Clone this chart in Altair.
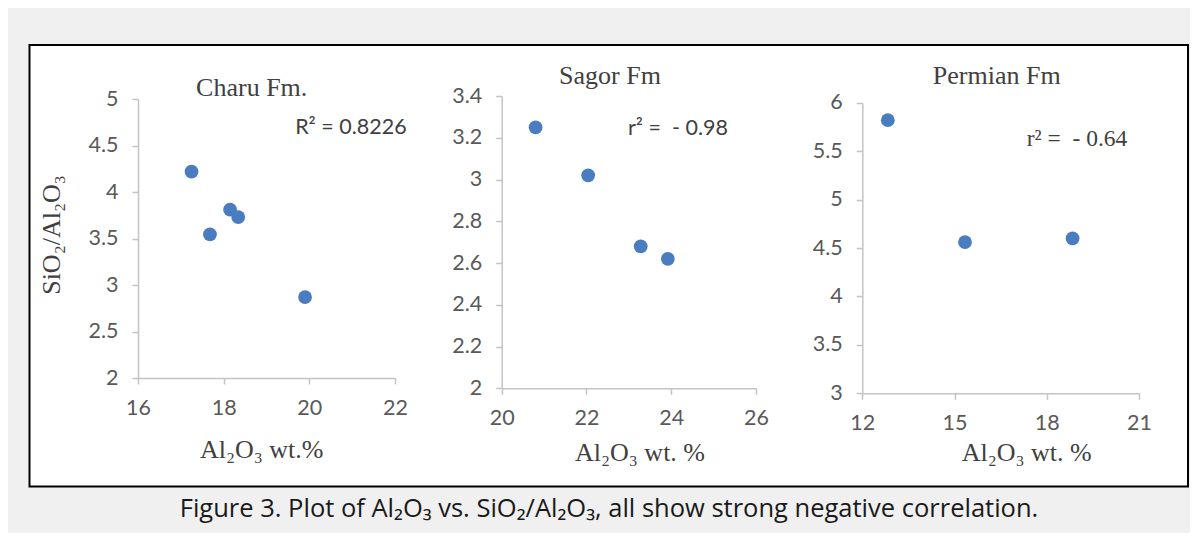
import altair as alt
import pandas as pd

# ---- data ----
charu_x = [17.25, 17.68, 18.15, 18.34, 19.90]
charu_y = [4.22, 3.545, 3.81, 3.73, 2.87]
sagor_x = [20.80, 22.04, 23.28, 23.92]
sagor_y = [3.25, 3.02, 2.68, 2.62]
perm_x = [12.83, 15.34, 18.84]
perm_y = [5.82, 4.56, 4.60]

charu_xticks = [16, 18, 20, 22]
charu_yticks = [2, 2.5, 3, 3.5, 4, 4.5, 5]
sagor_xticks = [20, 22, 24, 26]
sagor_yticks = [2, 2.2, 2.4, 2.6, 2.8, 3, 3.2, 3.4]
perm_xticks = [12, 15, 18, 21]
perm_yticks = [3, 3.5, 4, 4.5, 5, 5.5, 6]

titles = ["Charu Fm.", "Sagor Fm", "Permian Fm"]
notes = ["R\u00b2 = 0.8226", "r\u00b2 =\u00a0 - 0.98", "r\u00b2 =\u00a0 - 0.64"]
ytitle = "SiO\u2082/Al\u2082O\u2083"
xtitles = ["Al\u2082O\u2083 wt.%", "Al\u2082O\u2083 wt. %", "Al\u2082O\u2083 wt. %"]
caption = "Figure 3. Plot of Al\u2082O\u2083 vs. SiO\u2082/Al\u2082O\u2083, all show strong negative correlation."

W, H = 1182, 525
BLUE = "#4a7cc0"
AXC = "#c4c4c4"
LABC = "#595959"
TXT = "#404040"
SANS = "Lato"
SERIF = "Liberation Serif"

one = pd.DataFrame({"a": [0]})


def panel(xs, ys, xdom, ydom, xticks, yticks, xr, yr):
    df = pd.DataFrame({"x": xs, "y": ys})
    common = dict(domainColor=AXC, tickColor=AXC, tickSize=6, domainWidth=1.5,
                  tickWidth=1.5, labelFont=SANS, labelFontSize=21.5,
                  labelColor=LABC, grid=False, title=None, format="~g",
                  zindex=1, labelFlush=False)
    return alt.Chart(df).mark_circle(size=190, color=BLUE, opacity=1).encode(
        x=alt.X("x:Q",
                scale=alt.Scale(domain=xdom, range=xr, nice=False, zero=False),
                axis=alt.Axis(orient="bottom", offset=yr[0] - H, values=xticks,
                              labelPadding=13, **common)),
        y=alt.Y("y:Q",
                scale=alt.Scale(domain=ydom, range=yr, nice=False, zero=False),
                axis=alt.Axis(orient="left", offset=-xr[0], values=yticks,
                              labelPadding=14, **common)),
    )


def text(t, x, y, font, size, color=TXT, align="center", angle=0, baseline="middle"):
    kw = dict(font=font, fontSize=size, color=color, align=align, baseline=baseline)
    if angle:
        kw["angle"] = angle
    return alt.Chart(one).mark_text(**kw).encode(
        x=alt.value(x), y=alt.value(y), text=alt.value(t))


box = alt.Chart(one).mark_rect(fill="white", stroke="black", strokeWidth=2).encode(
    x=alt.value(21.5), x2=alt.value(1180), y=alt.value(37), y2=alt.value(478.5))

p1 = panel(charu_x, charu_y, [16, 22], [2, 5], charu_xticks, charu_yticks,
           [130, 387], [370, 91])
p2 = panel(sagor_x, sagor_y, [20, 26], [2, 3.4], sagor_xticks, sagor_yticks,
           [493.7, 748], [380.3, 88])
p3 = panel(perm_x, perm_y, [12, 21], [3, 6], perm_xticks, perm_yticks,
           [854.3, 1131], [385.3, 94.7])

texts = [
    text(titles[0], 243.7, 80, SERIF, 26),
    text(titles[1], 602, 68, SERIF, 26),
    text(titles[2], 988.7, 68, SERIF, 26),
    text(notes[0], 398.7, 120, SANS, 21.5, align="right"),
    text(notes[1], 620, 121, SANS, 21.5, align="left"),
    text(notes[2], 1018.7, 131, SERIF, 23.5, align="left"),
    text(ytitle, 43.7, 227, SERIF, 26, angle=270),
    text(xtitles[0], 253.7, 442, SERIF, 26),
    text(xtitles[1], 632, 445, SERIF, 26),
    text(xtitles[2], 1018.7, 445, SERIF, 26),
    text(caption, 601, 508.7, "Open Sans", 25.5, color="#1a1a1a",
         baseline="alphabetic"),
]

chart = alt.layer(box, p1, p2, p3, *texts).resolve_scale(
    x="independent", y="independent"
).resolve_axis(x="independent", y="independent").properties(
    width=W, height=H, padding=0, background="#f0f0f0",
    autosize=alt.AutoSizeParams(type="none"),
).configure_view(stroke=None)

chart.save("out.html", embed_options={"renderer": "svg", "actions": False})
